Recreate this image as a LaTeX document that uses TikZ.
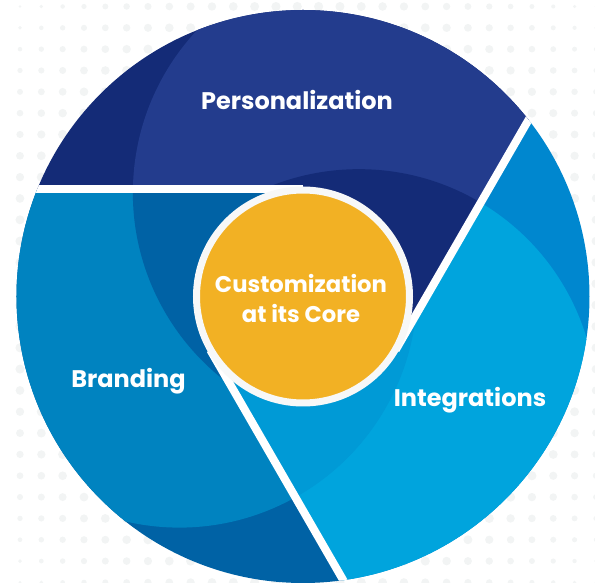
\documentclass[tikz,border=0pt]{standalone}
\usepackage{fontspec}
\setmainfont{Poppins}

\definecolor{persdark}{HTML}{142B77}
\definecolor{perslight}{HTML}{233C8D}
\definecolor{intedark}{HTML}{0087CF}
\definecolor{intelight}{HTML}{00A4DD}
\definecolor{inteshade}{HTML}{009AD6}
\definecolor{branddark}{HTML}{0062A5}
\definecolor{brandlight}{HTML}{0083C0}
\definecolor{coreyellow}{HTML}{F2B124}
\definecolor{ringwhite}{HTML}{F7F8F8}
\definecolor{dotgray}{HTML}{F2F4F4}

\begin{document}
\begin{tikzpicture}[x=1pt, y=1pt]
\tikzset{ lbl/.style={text=white, font=\fontsize{24}{30}\selectfont\bfseries, inner sep=0pt},
          gap/.style={white, line width=8pt} }

\useasboundingbox (-303,-286.5) rectangle (292,296.5);

% halftone dots behind the wheel
\foreach \i in {0,...,27}
  \foreach \j in {0,...,27} {
    \pgfmathsetmacro\dx{-283+21.33*\i}
    \pgfmathsetmacro\dy{290-21.33*\j}
    \pgfmathsetmacro\dr{max(1,min(4.6,4.6-0.027*(100*veclen(\dx/100,\dy/100)-290)))}
    \fill[dotgray] (\dx,\dy) circle (\dr pt);
  }

\coordinate (t1) at (90:107);
\coordinate (t2) at (-30:107);
\coordinate (t3) at (210:107);

\begin{scope}
\clip (0,0) circle (286.5pt);

% the three blades
\foreach \ang/\cbase/\clight/\cshade in {0/persdark/perslight/persdark,
        -120/intedark/intelight/inteshade, 120/branddark/brandlight/branddark} {
  \begin{scope}[rotate=\ang]
    \clip (0,107) -- (-700,107) -- (-700,800) -- (442.7,800) -- (442.7,552.7) -- (92.7,-53.5) -- cycle;
    \fill[\cbase] (0,0) circle (300pt);
    \fill[\clight] (56.8:124) circle (238pt);
    \fill[\cshade] (-63.2:124) circle (238pt);
  \end{scope}
}

\draw [gap] (t1) -- ++(180:320);
\draw [gap] (t2) -- ++(60:320);
\draw [gap] (t3) -- ++(300:320);
\end{scope}

\node [circle, fill=coreyellow, draw=ringwhite, line width=7pt, minimum size=213pt, inner sep=0pt] (core) at (0,0) {};

\node [lbl, align=center, font=\fontsize{22.7}{30}\selectfont\bfseries] (coretext) at (-2,-2) {Customization\\at its Core};
\node [lbl, anchor=base] (pers) at (-6,187) {Personalization};
\node [lbl, anchor=base] (brand) at (-174.5,-91.5) {Branding};
\node [lbl, anchor=base] (inte) at (167,-110.5) {Integrations};
\end{tikzpicture}
\end{document}
